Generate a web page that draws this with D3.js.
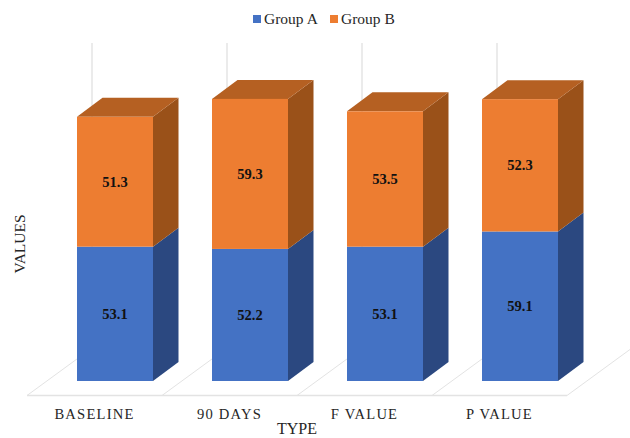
<!DOCTYPE html>
<html>
<head>
<meta charset="utf-8">
<script src="https://cdnjs.cloudflare.com/ajax/libs/d3/7.8.5/d3.min.js"></script>
<style>
html,body{margin:0;padding:0;background:#fff}
svg{display:block}
text{font-family:"Liberation Serif",serif;fill:#262626}
</style>
</head>
<body>
<svg id="chart" width="630" height="438"></svg>
<script>
const categories = ["BASELINE", "90 DAYS", "F VALUE", "P VALUE"];
const groupA = [53.1, 52.2, 53.1, 59.1];
const groupB = [51.3, 59.3, 53.5, 52.3];
const seriesNames = ["Group A", "Group B"];

const palette = {
  "Group A": {front: "#4472C4", side: "#2B4880", top: "#36599B"},
  "Group B": {front: "#ED7D31", side: "#9A5119", top: "#B56022"}
};

const svg = d3.select("#chart");

// Oblique projection: the depth of the plot box is a fixed screen offset.
const depthX = 65, depthY = -47.5;      // floor depth
const barDepthX = 25.5, barDepthY = -19; // bar depth
const barInsetX = 50, barInsetY = -14.5; // bar's front-left-bottom from floor band start
const floorY = 395.5;

const x = d3.scaleBand().domain(categories).range([27, 567]);
const y = d3.scaleLinear().domain([0, 120]).range([floorY + barInsetY, floorY + barInsetY - 120 * 2.53]);

// Floor and back-wall gridlines
const grid = svg.append("g").attr("fill", "none").attr("stroke", "#e3e3e3");
const edges = categories.map(c => x(c)).concat([x.range()[1]]);
grid.append("line").attr("x1", x.range()[0]).attr("x2", x.range()[1])
  .attr("y1", floorY).attr("y2", floorY).attr("stroke-width", 1.4);
grid.selectAll("line.depth").data(edges).join("line").attr("class", "depth")
  .attr("x1", d => d).attr("y1", floorY)
  .attr("x2", d => d + depthX).attr("y2", floorY + depthY).attr("stroke-width", 1);
grid.selectAll("line.wall").data(edges.slice(0, -1)).join("line").attr("class", "wall")
  .attr("x1", d => d + depthX).attr("x2", d => d + depthX)
  .attr("y1", floorY + depthY).attr("y2", 43).attr("stroke-width", 1.4);

// Stacked segments, bottom to top
const segments = categories.flatMap((c, i) => [
  {cat: c, series: "Group A", y0: 0, y1: groupA[i], value: groupA[i]},
  {cat: c, series: "Group B", y0: groupA[i], y1: groupA[i] + groupB[i], value: groupB[i]}
]);

const barW = 76;
const left = d => x(d.cat) + barInsetX;
const poly = pts => pts.map(p => p.join(",")).join(" ");

const bars = svg.append("g").selectAll("g").data(segments).join("g");

bars.append("polygon")
  .attr("fill", d => palette[d.series].side)
  .attr("points", d => {
    const r = left(d) + barW;
    return poly([[r, y(d.y0)], [r + barDepthX, y(d.y0) + barDepthY],
                 [r + barDepthX, y(d.y1) + barDepthY], [r, y(d.y1)]]);
  });

bars.filter(d => d.series === "Group B").append("polygon")
  .attr("fill", d => palette[d.series].top)
  .attr("points", d => {
    const l = left(d), t = y(d.y1);
    return poly([[l, t], [l + barW, t], [l + barW + barDepthX, t + barDepthY], [l + barDepthX, t + barDepthY]]);
  });

bars.append("rect")
  .attr("x", left)
  .attr("y", d => y(d.y1))
  .attr("width", barW)
  .attr("height", d => y(d.y0) - y(d.y1))
  .attr("fill", d => palette[d.series].front);

bars.append("text")
  .attr("x", d => left(d) + barW / 2)
  .attr("y", d => (y(d.y0) + y(d.y1)) / 2 + 5)
  .attr("text-anchor", "middle")
  .attr("font-size", 14.5)
  .attr("font-weight", "bold")
  .style("fill", "#111")
  .text(d => d.value.toFixed(1));

// Category labels along the front edge of the floor
svg.append("g").selectAll("text").data(categories).join("text")
  .attr("x", d => x(d) + x.bandwidth() / 2)
  .attr("y", 418.5)
  .attr("text-anchor", "middle")
  .attr("font-size", 14.6)
  .attr("letter-spacing", 1.2)
  .text(d => d);

// Axis titles
svg.append("text").attr("x", 297).attr("y", 434.4).attr("text-anchor", "middle")
  .attr("font-size", 16).text("TYPE");
svg.append("text").attr("transform", "translate(24.5,244) rotate(-90)")
  .attr("text-anchor", "middle").attr("font-size", 15.5).text("VALUES");

// Legend
const legendX = [253, 330];
const legend = svg.append("g").selectAll("g").data(seriesNames).join("g")
  .attr("transform", (d, i) => `translate(${legendX[i]},15)`);
legend.append("rect").attr("width", 8).attr("height", 8)
  .attr("fill", d => palette[d].front);
legend.append("text").attr("x", 11).attr("y", 9).attr("font-size", 15.5).text(d => d);
</script>
</body>
</html>
